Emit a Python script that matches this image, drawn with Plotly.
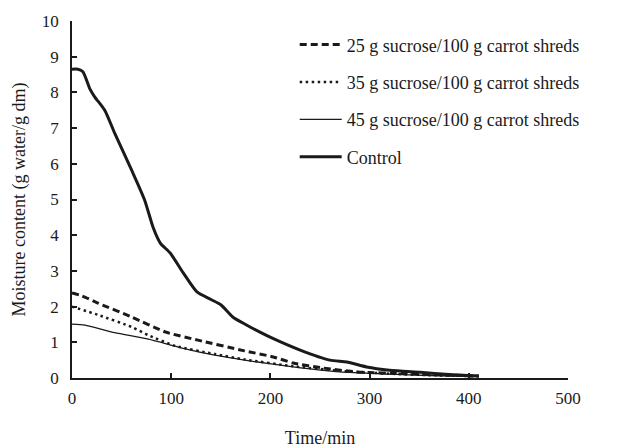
import plotly.graph_objects as go

# Drying time (min) and moisture content (g water / g dm)
t_control = [0, 6, 11, 18, 23, 33, 43, 60, 73, 82, 89, 99, 112, 126, 140, 150, 162, 175, 189, 203, 230, 260, 277, 297, 320, 351, 380, 410]
m_control = [8.65, 8.65, 8.58, 8.1, 7.87, 7.5, 6.86, 5.83, 5.0, 4.2, 3.78, 3.5, 2.95, 2.41, 2.2, 2.05, 1.71, 1.5, 1.29, 1.1, 0.78, 0.5, 0.45, 0.31, 0.22, 0.16, 0.1, 0.06]

t_25 = [0, 10, 26, 60, 94, 127, 174, 203, 223, 253, 287, 338, 380, 410]
m_25 = [2.38, 2.3, 2.1, 1.71, 1.29, 1.06, 0.76, 0.59, 0.42, 0.28, 0.17, 0.12, 0.08, 0.05]

t_35 = [0, 26, 60, 77, 104, 144, 174, 223, 270, 320, 360, 410]
m_35 = [2.0, 1.77, 1.43, 1.2, 0.9, 0.67, 0.52, 0.33, 0.2, 0.12, 0.08, 0.05]

t_45 = [0, 13, 43, 77, 111, 144, 174, 223, 270, 320, 360, 410]
m_45 = [1.51, 1.48, 1.27, 1.09, 0.84, 0.64, 0.5, 0.31, 0.17, 0.11, 0.07, 0.04]

series_names = ["25 g sucrose/100 g carrot shreds", "35 g sucrose/100 g carrot shreds",
                "45 g sucrose/100 g carrot shreds", "Control"]

FONT = "Liberation Serif, Times New Roman, serif"
INK = "#1a1a1a"

fig = go.Figure()
fig.add_trace(go.Scatter(x=t_25, y=m_25, mode="lines", name=series_names[0], legendgroup="a",
                         line=dict(color=INK, width=3, dash="7px,4px", shape="spline", smoothing=0.6)))
fig.add_trace(go.Scatter(x=t_35, y=m_35, mode="lines", name=series_names[1], legendgroup="b",
                         line=dict(color=INK, width=2.5, dash="2.5px,3.5px", shape="spline", smoothing=0.6)))
fig.add_trace(go.Scatter(x=t_45, y=m_45, mode="lines", name=series_names[2], legendgroup="c",
                         line=dict(color=INK, width=1.3, shape="spline", smoothing=0.6)))
fig.add_trace(go.Scatter(x=t_control, y=m_control, mode="lines", name=series_names[3], legendgroup="d",
                         line=dict(color=INK, width=3, shape="spline", smoothing=0.6)))

fig.update_layout(
    width=643, height=448,
    margin=dict(l=72, r=75, t=21, b=70),
    paper_bgcolor="white", plot_bgcolor="white",
    font=dict(family=FONT, size=18, color=INK),
    showlegend=True,
    legend=dict(x=0.449, y=0.985, xanchor="left", yanchor="top", bgcolor="rgba(0,0,0,0)",
                font=dict(family=FONT, size=18, color=INK), tracegroupgap=11,
                itemwidth=42, traceorder="grouped"),
)
fig.update_xaxes(range=[0, 500], dtick=100, showgrid=False, zeroline=False, automargin=False,
                 showline=True, linecolor=INK, linewidth=1.5,
                 ticks="inside", ticklen=5, tickwidth=1.5, tickcolor=INK,
                 ticklabelstandoff=4,
                 tickfont=dict(family=FONT, size=17, color=INK),
                 title=dict(text="Time/min", font=dict(family=FONT, size=18, color=INK), standoff=26))
fig.update_yaxes(range=[0, 10], dtick=1, showgrid=False, zeroline=False, automargin=False,
                 showline=True, linecolor=INK, linewidth=1.5,
                 ticks="inside", ticklen=5, tickwidth=1.5, tickcolor=INK,
                 ticklabelstandoff=8,
                 tickfont=dict(family=FONT, size=17, color=INK),
                 title=dict(text="Moisture content (g water/g dm)", font=dict(family=FONT, size=18, color=INK), standoff=12))

fig.write_html("out.html")
